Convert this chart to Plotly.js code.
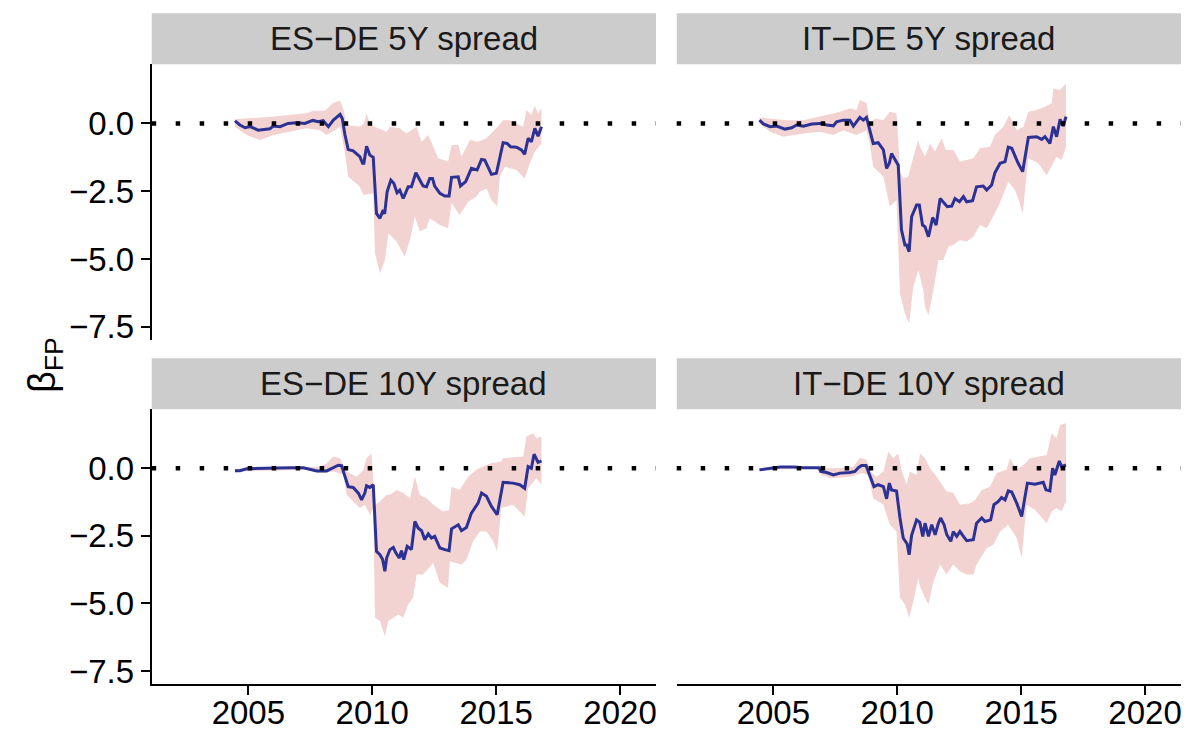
<!DOCTYPE html>
<html>
<head>
<meta charset="utf-8">
<script src="https://cdn.plot.ly/plotly-3.0.1.min.js"></script>
<style>html,body{margin:0;padding:0;background:#fff;}#chart{width:1186px;height:731px;}</style>
</head>
<body>
<div id="chart"></div>
<script>
// ---------- DATA ----------
const panelTitles = ["ES\u2212DE 5Y spread", "IT\u2212DE 5Y spread", "ES\u2212DE 10Y spread", "IT\u2212DE 10Y spread"];
const xTickVals = [2005, 2010, 2015, 2020];
const yTickVals = [0, -2.5, -5, -7.5];
const yTickText = ["0.0", "\u22122.5", "\u22125.0", "\u22127.5"];

// ES-DE 5Y
const esde5_t = [2004.46,2004.66,2004.87,2005.07,2005.40,2005.67,2005.87,2006.00,2006.28,2006.60,2006.95,2007.28,2007.60,2007.82,2008.02,2008.23,2008.43,2008.70,2008.79,2008.90,2009.03,2009.23,2009.50,2009.61,2009.66,2009.77,2009.90,2010.04,2010.10,2010.17,2010.31,2010.44,2010.50,2010.60,2010.75,2010.87,2011.00,2011.11,2011.25,2011.45,2011.58,2011.76,2011.92,2012.05,2012.19,2012.32,2012.43,2012.52,2012.73,2012.93,2013.10,2013.20,2013.47,2013.56,2013.77,2014.00,2014.23,2014.41,2014.54,2014.81,2015.01,2015.28,2015.44,2015.58,2015.82,2016.02,2016.15,2016.29,2016.42,2016.56,2016.69,2016.83];
const esde5_v = [0.09,-0.06,-0.16,-0.12,-0.25,-0.21,-0.20,-0.10,-0.12,0.00,0.02,0.00,0.11,0.06,0.10,-0.12,0.12,0.33,0.18,-0.43,-0.96,-1.01,-1.23,-1.47,-1.47,-0.84,-1.17,-1.25,-2.34,-3.32,-3.50,-3.20,-3.34,-2.52,-2.09,-2.21,-2.56,-2.46,-2.77,-2.34,-2.34,-1.82,-2.09,-2.31,-2.34,-2.03,-2.03,-2.31,-2.58,-2.68,-2.68,-1.99,-1.97,-2.31,-2.15,-1.66,-1.72,-1.33,-1.35,-1.88,-1.84,-0.71,-0.74,-0.86,-0.88,-0.98,-1.14,-0.55,-0.68,-0.18,-0.47,-0.12];
const esde5_up_t = [2004.46,2005.07,2006.01,2007.35,2007.62,2008.09,2008.43,2008.70,2008.83,2008.97,2009.50,2009.66,2009.77,2009.90,2010.10,2010.58,2010.71,2011.11,2011.38,2011.79,2011.99,2012.26,2012.46,2012.66,2013.06,2013.20,2013.47,2013.60,2013.94,2014.27,2014.61,2015.01,2015.28,2015.55,2016.09,2016.22,2016.42,2016.56,2016.69,2016.83];
const esde5_up_v = [0.15,0.18,0.25,0.37,0.47,0.47,0.76,0.84,0.55,-0.06,-0.12,0.00,0.37,0.00,-0.12,-0.31,-0.12,-0.18,-0.37,-0.12,-0.68,-0.43,-0.86,-1.29,-1.41,-0.80,-0.80,-1.23,-0.61,-0.68,-0.55,-0.18,0.12,0.12,-0.12,0.49,0.31,0.64,0.37,0.55];
const esde5_lo_t = [2004.46,2004.93,2005.47,2006.01,2006.68,2007.35,2007.89,2008.16,2008.70,2008.90,2009.03,2009.50,2009.64,2010.04,2010.11,2010.31,2010.51,2010.65,2010.98,2011.31,2011.52,2011.72,2011.92,2012.19,2012.32,2012.73,2013.06,2013.20,2013.53,2013.87,2014.20,2014.34,2014.61,2014.81,2015.04,2015.15,2015.35,2015.82,2016.15,2016.36,2016.56,2016.83];
const esde5_lo_v = [-0.12,-0.43,-0.61,-0.43,-0.31,-0.18,-0.25,-0.43,-0.12,-1.11,-1.97,-2.34,-2.64,-2.58,-4.79,-5.53,-5.04,-4.06,-4.36,-4.92,-4.30,-3.44,-3.99,-3.87,-3.50,-3.75,-3.87,-2.95,-3.38,-2.89,-2.70,-2.52,-2.40,-2.83,-3.07,-1.97,-1.60,-1.72,-2.03,-1.47,-1.04,-0.74];

// IT-DE 5Y
const itde5_t = [2004.44,2004.60,2004.87,2005.13,2005.47,2005.74,2005.94,2006.21,2006.55,2006.88,2007.15,2007.42,2007.55,2007.82,2008.09,2008.23,2008.49,2008.63,2008.76,2008.90,2009.03,2009.23,2009.44,2009.57,2009.68,2009.77,2010.04,2010.17,2010.31,2010.38,2010.48,2010.58,2010.78,2010.89,2011.02,2011.12,2011.26,2011.43,2011.57,2011.73,2011.89,2012.02,2012.20,2012.33,2012.51,2012.67,2012.80,2013.04,2013.20,2013.47,2013.61,2013.81,2013.94,2014.15,2014.35,2014.48,2014.62,2014.75,2014.88,2015.06,2015.29,2015.62,2015.83,2015.96,2016.16,2016.30,2016.43,2016.57,2016.70,2016.81];
const itde5_v = [0.12,-0.02,-0.12,-0.10,-0.21,-0.16,-0.06,-0.10,-0.02,0.00,-0.06,-0.09,0.06,0.12,0.12,-0.10,0.22,0.12,0.22,-0.31,-0.74,-0.71,-0.98,-1.66,-1.47,-1.11,-1.54,-3.93,-4.49,-4.49,-4.73,-3.44,-3.01,-3.01,-3.75,-3.81,-4.18,-3.47,-3.75,-2.77,-2.95,-3.07,-3.05,-2.77,-2.89,-2.70,-2.89,-2.85,-2.34,-2.31,-2.46,-2.27,-1.82,-1.47,-1.41,-0.88,-0.92,-1.23,-1.47,-1.78,-0.52,-0.49,-0.59,-0.49,-0.74,-0.12,-0.49,0.15,-0.10,0.25];
const itde5_up_t = [2004.44,2004.87,2005.54,2006.21,2006.88,2007.55,2008.09,2008.36,2008.49,2008.76,2008.90,2009.10,2009.44,2009.70,2009.97,2010.12,2010.24,2010.44,2010.65,2010.85,2010.92,2011.12,2011.32,2011.52,2011.79,2011.96,2012.26,2012.53,2012.80,2013.07,2013.34,2013.74,2013.94,2014.28,2014.52,2014.82,2015.09,2015.29,2015.62,2015.96,2016.23,2016.30,2016.57,2016.70,2016.81];
const itde5_up_v = [0.22,0.18,0.12,0.12,0.25,0.39,0.55,0.49,0.86,0.74,0.00,0.18,0.12,0.43,0.37,-1.80,-2.03,-1.97,-1.23,-0.61,-0.86,-1.23,-0.74,-1.04,-0.55,-0.98,-0.98,-1.41,-1.35,-1.29,-0.92,-0.86,-0.43,-0.12,0.31,-0.25,-0.12,0.43,0.49,0.61,0.74,1.29,1.23,1.35,1.47];
const itde5_lo_t = [2004.44,2004.87,2005.40,2006.21,2006.88,2007.42,2007.82,2008.36,2008.76,2008.90,2009.03,2009.44,2009.70,2009.97,2010.11,2010.31,2010.48,2010.65,2010.85,2011.05,2011.12,2011.26,2011.46,2011.66,2011.86,2012.06,2012.26,2012.53,2012.80,2013.07,2013.34,2013.61,2013.81,2014.08,2014.48,2014.75,2014.95,2015.06,2015.29,2015.69,2016.03,2016.23,2016.43,2016.63,2016.81];
const itde5_lo_v = [0.00,-0.31,-0.49,-0.37,-0.31,-0.43,-0.25,-0.43,-0.25,-0.80,-1.60,-1.97,-3.07,-2.83,-6.27,-7.01,-7.37,-6.02,-5.41,-6.15,-6.76,-7.07,-6.15,-5.04,-5.04,-4.55,-4.49,-4.30,-4.36,-4.18,-3.75,-3.87,-3.50,-3.07,-2.15,-2.46,-2.95,-3.32,-1.29,-1.47,-1.91,-1.60,-1.23,-1.35,-0.86];

// ES-DE 10Y
const esde10_t = [2004.46,2004.66,2004.93,2005.47,2006.00,2006.68,2007.22,2007.49,2007.76,2008.16,2008.43,2008.63,2008.76,2008.86,2009.03,2009.23,2009.44,2009.57,2009.70,2009.77,2009.90,2010.04,2010.11,2010.17,2010.31,2010.42,2010.51,2010.58,2010.71,2010.85,2010.95,2011.09,2011.18,2011.27,2011.41,2011.58,2011.72,2011.85,2011.99,2012.12,2012.26,2012.39,2012.52,2012.73,2012.93,2013.10,2013.20,2013.47,2013.60,2013.80,2014.00,2014.14,2014.27,2014.41,2014.61,2014.81,2015.04,2015.28,2015.68,2015.95,2016.15,2016.29,2016.42,2016.53,2016.62,2016.69,2016.83];
const esde10_v = [-0.09,-0.09,-0.02,0.00,0.01,0.02,0.02,-0.04,-0.10,-0.10,0.02,0.11,0.10,-0.18,-0.68,-0.71,-0.92,-1.17,-0.92,-0.65,-0.71,-0.61,-1.97,-3.07,-3.20,-3.38,-3.81,-3.32,-3.01,-2.93,-3.13,-3.32,-3.05,-3.38,-2.89,-3.01,-1.97,-2.21,-2.31,-2.64,-2.43,-2.58,-2.52,-2.95,-3.01,-3.05,-2.24,-2.09,-2.31,-2.19,-1.66,-1.47,-1.29,-0.92,-1.04,-1.41,-1.72,-0.52,-0.55,-0.61,-0.74,0.06,0.00,0.52,0.31,0.22,0.27];
const esde10_up_t = [2004.46,2007.35,2007.89,2008.16,2008.43,2008.70,2008.97,2009.37,2009.64,2009.77,2009.97,2010.04,2010.11,2010.31,2010.58,2010.71,2010.98,2011.25,2011.52,2011.72,2011.92,2012.19,2012.46,2012.86,2013.10,2013.20,2013.53,2013.87,2014.20,2014.74,2015.21,2015.28,2016.09,2016.22,2016.49,2016.62,2016.83];
const esde10_up_v = [-0.02,0.06,0.06,0.18,0.43,0.37,-0.12,-0.31,-0.06,0.37,0.55,-0.49,-1.35,-1.23,-0.98,-0.98,-0.80,-0.92,-1.11,-0.31,-0.98,-1.11,-1.35,-1.60,-1.54,-0.68,-0.80,-0.31,-0.06,0.18,0.25,0.37,0.43,1.17,1.29,1.11,1.17];
const esde10_lo_t = [2004.46,2007.35,2007.89,2008.43,2008.83,2008.97,2009.23,2009.50,2009.70,2009.91,2010.04,2010.11,2010.31,2010.51,2010.65,2011.05,2011.25,2011.45,2011.65,2011.79,2012.05,2012.46,2012.73,2013.06,2013.13,2013.60,2013.80,2014.07,2014.34,2014.61,2014.88,2015.04,2015.21,2015.68,2015.95,2016.15,2016.29,2016.62,2016.83];
const esde10_lo_v = [-0.12,-0.06,-0.18,-0.12,-0.22,-0.98,-1.23,-1.47,-1.35,-1.72,-1.47,-5.53,-5.65,-6.21,-5.65,-5.41,-5.53,-5.04,-4.79,-3.93,-3.93,-3.50,-4.24,-4.42,-3.44,-3.56,-3.38,-2.70,-2.34,-2.34,-2.70,-3.07,-1.47,-1.35,-1.60,-1.78,-0.74,-0.37,-0.61];

// IT-DE 10Y
const itde10_t = [2004.44,2004.87,2005.27,2005.81,2006.21,2006.61,2006.85,2006.91,2007.15,2007.42,2007.69,2008.09,2008.29,2008.43,2008.56,2008.74,2008.90,2009.06,2009.23,2009.44,2009.57,2009.68,2009.77,2009.97,2010.11,2010.24,2010.40,2010.48,2010.58,2010.78,2010.91,2011.03,2011.12,2011.26,2011.39,2011.53,2011.66,2011.75,2011.89,2012.00,2012.16,2012.26,2012.40,2012.53,2012.67,2012.80,2013.07,2013.20,2013.41,2013.54,2013.77,2013.90,2014.08,2014.21,2014.35,2014.48,2014.62,2014.82,2015.02,2015.25,2015.56,2015.89,2016.00,2016.16,2016.27,2016.36,2016.54,2016.63,2016.81];
const itde10_v = [-0.06,0.00,0.05,0.05,0.02,0.02,0.02,-0.12,-0.16,-0.25,-0.18,-0.16,-0.12,0.02,0.10,0.10,-0.31,-0.68,-0.61,-0.68,-1.13,-0.55,-0.80,-0.84,-1.84,-2.58,-2.80,-3.20,-2.48,-1.91,-2.00,-2.52,-2.03,-2.52,-2.09,-2.46,-2.03,-1.84,-2.09,-2.46,-2.70,-2.34,-2.52,-2.34,-2.52,-2.68,-2.64,-2.03,-1.84,-1.97,-1.91,-1.35,-1.23,-1.08,-1.17,-0.84,-0.88,-1.29,-1.78,-0.55,-0.59,-0.52,-0.80,-0.84,0.00,-0.25,0.27,0.06,0.12];
const itde10_up_t = [2004.44,2006.75,2007.55,2008.23,2008.49,2008.76,2008.97,2009.17,2009.44,2009.64,2009.84,2010.04,2010.17,2010.38,2010.51,2010.78,2010.92,2011.12,2011.32,2011.59,2011.99,2012.26,2012.53,2012.94,2013.14,2013.41,2013.74,2014.01,2014.41,2014.55,2014.82,2015.09,2015.36,2016.03,2016.23,2016.43,2016.57,2016.81];
const itde10_up_v = [0.00,0.02,0.00,0.06,0.39,0.31,-0.18,-0.31,-0.12,0.61,0.37,0.55,-0.06,-0.61,-0.12,-0.25,0.55,0.37,0.00,-0.31,-0.86,-0.92,-1.35,-1.29,-1.17,-0.80,-0.68,-0.18,-0.06,0.37,-0.06,0.12,0.37,0.49,1.29,1.11,1.60,1.66];
const itde10_lo_t = [2004.44,2006.75,2006.95,2007.28,2008.09,2008.56,2008.83,2009.03,2009.44,2009.70,2009.97,2010.11,2010.31,2010.48,2010.65,2010.85,2010.92,2011.12,2011.26,2011.46,2011.73,2011.99,2012.26,2012.53,2012.80,2013.07,2013.20,2013.61,2013.88,2014.15,2014.48,2014.82,2015.02,2015.22,2015.56,2016.03,2016.23,2016.43,2016.63,2016.81];
const itde10_lo_v = [-0.06,-0.02,-0.25,-0.37,-0.31,-0.18,-0.25,-1.11,-1.35,-2.09,-2.34,-4.79,-5.04,-5.53,-4.92,-4.06,-4.36,-4.79,-5.04,-4.18,-3.56,-3.93,-3.56,-3.81,-3.93,-3.93,-3.56,-2.95,-2.83,-2.34,-2.09,-2.58,-3.32,-1.35,-1.54,-2.03,-1.60,-1.47,-1.60,-1.23];

// ---------- STYLE / LAYOUT ----------
const LINE_COLOR = '#2C3194';
const BAND_COLOR = 'rgb(243,210,210)';
const FONT = 'Liberation Sans, Arial, Helvetica, sans-serif';
const TICK_SIZE = 33;

const xDomL = [151.7/1186, 656/1186];
const xDomR = [676.7/1186, 1181/1186];
const yDomT = [1-340/731, 1-64.3/731];
const yDomB = [1-684.3/731, 1-409.3/731];
const xRange = [2001.10, 2021.45];
const yRange = [-7.99, 2.18];

const panels = [
  {title: panelTitles[0], t: esde5_t, v: esde5_v, ut: esde5_up_t, uv: esde5_up_v, lt: esde5_lo_t, lv: esde5_lo_v, xa: 'x3', ya: 'y3', xd: xDomL, yd: yDomT},
  {title: panelTitles[1], t: itde5_t, v: itde5_v, ut: itde5_up_t, uv: itde5_up_v, lt: itde5_lo_t, lv: itde5_lo_v, xa: 'x4', ya: 'y4', xd: xDomR, yd: yDomT},
  {title: panelTitles[2], t: esde10_t, v: esde10_v, ut: esde10_up_t, uv: esde10_up_v, lt: esde10_lo_t, lv: esde10_lo_v, xa: 'x', ya: 'y', xd: xDomL, yd: yDomB},
  {title: panelTitles[3], t: itde10_t, v: itde10_v, ut: itde10_up_t, uv: itde10_up_v, lt: itde10_lo_t, lv: itde10_lo_v, xa: 'x2', ya: 'y2', xd: xDomR, yd: yDomB}
];

const traces = [];
panels.forEach(p => {
  traces.push({
    type: 'scatter', mode: 'lines', xaxis: p.xa, yaxis: p.ya,
    x: p.ut.concat(p.lt.slice().reverse()),
    y: p.uv.concat(p.lv.slice().reverse()),
    fill: 'toself', fillcolor: BAND_COLOR, line: {width: 0, color: BAND_COLOR},
    hoverinfo: 'skip', showlegend: false
  });
  traces.push({
    type: 'scatter', mode: 'lines', xaxis: p.xa, yaxis: p.ya,
    x: p.t, y: p.v, line: {color: LINE_COLOR, width: 3},
    showlegend: false
  });
});

function xAxis(domain, anchor, show) {
  return {
    domain: domain, anchor: anchor, range: xRange, showgrid: false, zeroline: false,
    showline: show, linecolor: 'black', linewidth: 2,
    ticks: show ? 'outside' : '', ticklen: 9, tickwidth: 2, tickcolor: 'black',
    tickvals: xTickVals, ticktext: xTickVals.map(String), showticklabels: show,
    ticklabelstandoff: -11,
    tickfont: {family: FONT, size: TICK_SIZE, color: 'black'}
  };
}
function yAxis(domain, anchor, show) {
  return {
    domain: domain, anchor: anchor, range: yRange, showgrid: false, zeroline: false,
    showline: show, linecolor: 'black', linewidth: 2,
    ticks: show ? 'outside' : '', ticklen: 9, tickwidth: 2, tickcolor: 'black',
    tickvals: yTickVals, ticktext: yTickText, showticklabels: show,
    tickfont: {family: FONT, size: TICK_SIZE, color: 'black'}
  };
}

const shapes = [];
const annotations = [];
panels.forEach(p => {
  // strip background
  const stripH = 51 / 731;
  shapes.push({type: 'rect', xref: 'paper', yref: 'paper', x0: p.xd[0], x1: p.xd[1],
    y0: p.yd[1], y1: p.yd[1] + stripH, fillcolor: '#CCCCCC', line: {width: 0}, layer: 'below'});
  annotations.push({xref: 'paper', yref: 'paper', x: (p.xd[0] + p.xd[1]) / 2, y: p.yd[1] + stripH / 2,
    text: p.title, showarrow: false, xanchor: 'center', yanchor: 'middle',
    font: {family: FONT, size: TICK_SIZE, color: '#1A1A1A'}});
  // dotted zero line
  shapes.push({type: 'line', xref: p.xa + ' domain', yref: p.ya, x0: 0, x1: 1, y0: 0, y1: 0,
    line: {color: 'black', width: 4.5, dash: '4.5px,19.5px'}, layer: 'above'});
});

annotations.push({xref: 'paper', yref: 'paper', x: 45/1186, y: 1 - 365/731,
  text: '\u03B2<sub>FP</sub>', textangle: -90, showarrow: false, xanchor: 'center', yanchor: 'middle',
  font: {family: FONT, size: 38, color: 'black'}});

const layout = {
  width: 1186, height: 731,
  margin: {l: 0, r: 0, t: 0, b: 0},
  paper_bgcolor: 'white', plot_bgcolor: 'white',
  showlegend: false,
  xaxis: xAxis(xDomL, 'y', true),
  yaxis: yAxis(yDomB, 'x', true),
  xaxis2: xAxis(xDomR, 'y2', true),
  yaxis2: yAxis(yDomB, 'x2', false),
  xaxis3: xAxis(xDomL, 'y3', false),
  yaxis3: yAxis(yDomT, 'x3', true),
  xaxis4: xAxis(xDomR, 'y4', false),
  yaxis4: yAxis(yDomT, 'x4', false),
  shapes: shapes,
  annotations: annotations
};

Plotly.newPlot('chart', traces, layout, {staticPlot: true, displayModeBar: false});
</script>
</body>
</html>
